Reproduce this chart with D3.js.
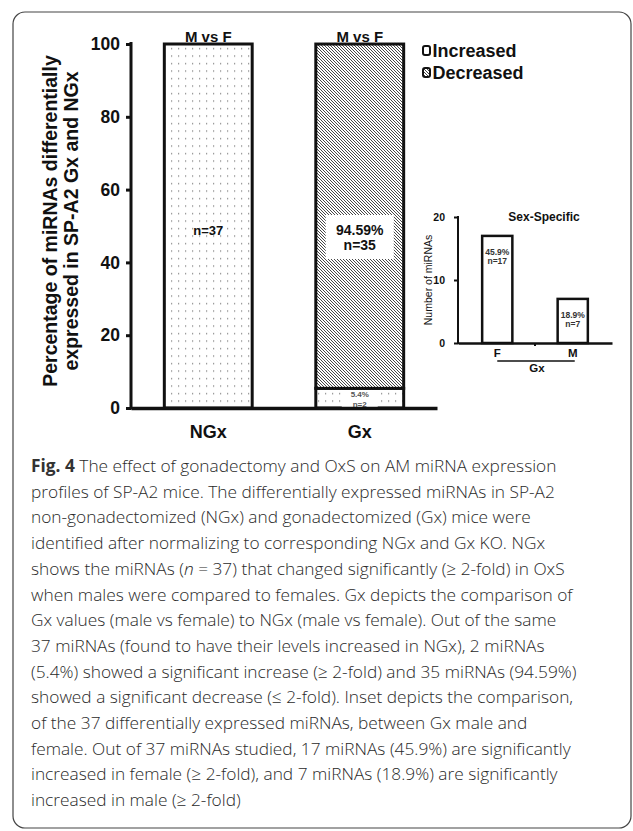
<!doctype html>
<html>
<head>
<meta charset="utf-8">
<script src="https://d3js.org/d3.v7.min.js"></script>
<style>
  body { margin: 0; background: #fff; }
  svg { display: block; }
  .bold { font-family: "Liberation Sans", Arial, sans-serif; font-weight: bold; fill: #111; }
  .cap { font-family: "Open Sans", "Noto Sans", sans-serif; font-weight: 300; fill: #2a2a2a; }
</style>
</head>
<body>
<svg id="chart" width="633" height="831"></svg>
<script>
// main chart data
var groups = ["NGx", "Gx"];
var increasedPct = [100, 5.4];
var decreasedPct = [0, 94.59];
var increasedN = [37, 2];
var decreasedN = [0, 35];
var yTicks = [0, 20, 40, 60, 80, 100];
var legendItems = ["Increased", "Decreased"];

// inset data
var insetCats = ["F", "M"];
var insetCounts = [17, 7];
var insetPct = [45.9, 18.9];
var insetTicks = [0, 10, 20];

var captionLines = [
  "The effect of gonadectomy and OxS on AM miRNA expression",
  "profiles of SP-A2 mice. The differentially expressed miRNAs in SP-A2",
  "non-gonadectomized (NGx) and gonadectomized (Gx) mice were",
  "identified after normalizing to corresponding NGx and Gx KO. NGx",
  "shows the miRNAs (|n| = 37) that changed significantly (\u2265 2-fold) in OxS",
  "when males were compared to females. Gx depicts the comparison of",
  "Gx values (male vs female) to NGx (male vs female). Out of the same",
  "37 miRNAs (found to have their levels increased in NGx), 2 miRNAs",
  "(5.4%) showed a significant increase (\u2265 2-fold) and 35 miRNAs (94.59%)",
  "showed a significant decrease (\u2264 2-fold). Inset depicts the comparison,",
  "of the 37 differentially expressed miRNAs, between Gx male and",
  "female. Out of 37 miRNAs studied, 17 miRNAs (45.9%) are significantly",
  "increased in female (\u2265 2-fold), and 7 miRNAs (18.9%) are significantly",
  "increased in male (\u2265 2-fold)"
];

var svg = d3.select("#chart");

// patterns
var defs = svg.append("defs");
var dots = defs.append("pattern").attr("id", "dots")
  .attr("patternUnits", "userSpaceOnUse").attr("width", 7).attr("height", 7.5);
dots.append("rect").attr("x", 3).attr("y", 3).attr("width", 1.2).attr("height", 1.2).attr("fill", "#777");
var hatch = defs.append("pattern").attr("id", "hatch")
  .attr("patternUnits", "userSpaceOnUse").attr("width", 3).attr("height", 3);
hatch.append("rect").attr("width", 3).attr("height", 3).attr("fill", "#fff");
hatch.append("path").attr("d", "M-1,-1 L4,4 M-1,2 L1,4 M2,-1 L4,1")
  .attr("stroke", "#333").attr("stroke-width", 0.9);

// frame
svg.append("rect").attr("x", 13).attr("y", 12).attr("width", 618).attr("height", 816)
  .attr("rx", 12).attr("fill", "none").attr("stroke", "#444").attr("stroke-width", 1.2);

// scales
var x = d3.scaleBand().domain(groups).range([131, 437]).paddingInner(0.42).paddingOuter(0.22);
var y = d3.scaleLinear().domain([0, 100]).range([408, 44]);

var rows = groups.map(function(g, i) {
  return {g: g, inc: increasedPct[i], dec: decreasedPct[i], nInc: increasedN[i], nDec: decreasedN[i]};
});

// bars: increased segment (dots) from 0, decreased (hatch) stacked on top
var bars = svg.append("g");
bars.selectAll(".inc").data(rows).enter().append("rect")
  .attr("x", function(d) { return x(d.g); })
  .attr("y", function(d) { return y(d.inc); })
  .attr("width", x.bandwidth())
  .attr("height", function(d) { return y(0) - y(d.inc); })
  .attr("fill", "url(#dots)").attr("stroke", "#111").attr("stroke-width", 3);
bars.selectAll(".dec").data(rows.filter(function(d) { return d.dec > 0; })).enter().append("rect")
  .attr("x", function(d) { return x(d.g); })
  .attr("y", function(d) { return y(d.inc + d.dec); })
  .attr("width", x.bandwidth())
  .attr("height", function(d) { return y(d.inc) - y(d.inc + d.dec); })
  .attr("fill", "url(#hatch)").attr("stroke", "#111").attr("stroke-width", 3);

// bar labels
var cNGx = x("NGx") + x.bandwidth() / 2, cGx = x("Gx") + x.bandwidth() / 2;
svg.append("text").attr("class", "bold").attr("x", cNGx).attr("y", 235)
  .attr("text-anchor", "middle").attr("font-size", 13).text("n=" + rows[0].nInc);
svg.append("rect").attr("x", cGx - 34).attr("y", 215).attr("width", 68).attr("height", 44).attr("fill", "#fff");
svg.append("text").attr("class", "bold").attr("x", cGx).attr("y", 235)
  .attr("text-anchor", "middle").attr("font-size", 14).text(rows[1].dec + "%");
svg.append("text").attr("class", "bold").attr("x", cGx).attr("y", 250)
  .attr("text-anchor", "middle").attr("font-size", 14).text("n=" + rows[1].nDec);
svg.append("rect").attr("x", cGx - 18).attr("y", y(rows[1].inc) + 2).attr("width", 36).attr("height", 17).attr("fill", "#fff");
svg.append("text").attr("class", "bold").attr("x", cGx).attr("y", y(rows[1].inc) + 9)
  .attr("text-anchor", "middle").attr("font-size", 8).style("fill", "#555").text(rows[1].inc + "%");
svg.append("text").attr("class", "bold").attr("x", cGx).attr("y", y(rows[1].inc) + 19)
  .attr("text-anchor", "middle").attr("font-size", 8).style("fill", "#555").text("n=" + rows[1].nInc);

// M vs F labels
svg.selectAll(".mvf").data(groups).enter().append("text").attr("class", "bold")
  .attr("x", function(d) { return x(d) + x.bandwidth() / 2; })
  .attr("y", y(100) - 2).attr("text-anchor", "middle").attr("font-size", 15).text("M vs F");

// axes
var yAxis = d3.axisLeft(y).tickValues(yTicks).tickSize(5).tickPadding(6);
var gy = svg.append("g").attr("transform", "translate(131,0)").call(yAxis);
gy.select(".domain").remove();
gy.selectAll(".tick line").attr("stroke", "#111").attr("stroke-width", 3);
gy.selectAll(".tick text").attr("class", "bold").attr("font-size", 17.5);
svg.append("line").attr("x1", 131).attr("x2", 131).attr("y1", y(0) + 1.5).attr("y2", y(100) - 2)
  .attr("stroke", "#111").attr("stroke-width", 3);

var xAxis = d3.axisBottom(x).tickSize(0).tickPadding(17);
var gx = svg.append("g").attr("transform", "translate(0," + y(0) + ")").call(xAxis);
gx.select(".domain").attr("stroke", "#111").attr("stroke-width", 3.5);
gx.selectAll(".tick text").attr("class", "bold").attr("font-size", 18);

// y label
var yl = svg.append("text").attr("class", "bold").attr("font-size", 19.5)
  .attr("text-anchor", "middle").attr("transform", "translate(51,221) rotate(-90)");
yl.append("tspan").attr("x", 0).attr("dy", 6).text("Percentage of miRNAs  differentially");
yl.append("tspan").attr("x", 0).attr("dy", 20.5).text("expressed in SP-A2 Gx and NGx");

// legend
var leg = svg.append("g").selectAll("g").data(legendItems).enter().append("g")
  .attr("transform", function(d, i) { return "translate(423," + (46 + i * 22) + ")"; });
leg.append("rect").attr("width", 7).attr("height", 9).attr("rx", 2)
  .attr("fill", function(d, i) { return i === 0 ? "#fff" : "url(#hatch)"; })
  .attr("stroke", "#111").attr("stroke-width", 2);
leg.append("text").attr("class", "bold").attr("x", 9.5).attr("y", 11).attr("font-size", 18)
  .text(function(d) { return d; });

// inset
var ix = d3.scaleBand().domain(insetCats).range([458, 612]).paddingInner(0.6).paddingOuter(0.32);
var iy = d3.scaleLinear().domain([0, 20]).range([343, 217]);
var inset = svg.append("g");
inset.selectAll("rect").data(insetCats).enter().append("rect")
  .attr("x", function(d) { return ix(d); })
  .attr("y", function(d, i) { return iy(insetCounts[i]); })
  .attr("width", ix.bandwidth())
  .attr("height", function(d, i) { return iy(0) - iy(insetCounts[i]); })
  .attr("fill", "#fff").attr("stroke", "#111").attr("stroke-width", 2.5);
inset.selectAll(".pct").data(insetCats).enter().append("text").attr("class", "bold")
  .attr("x", function(d) { return ix(d) + ix.bandwidth() / 2; })
  .attr("y", function(d, i) { return iy(insetCounts[i]) + 19; })
  .attr("text-anchor", "middle").attr("font-size", 8.5).style("fill", "#333")
  .text(function(d, i) { return insetPct[i] + "%"; });
inset.selectAll(".n").data(insetCats).enter().append("text").attr("class", "bold")
  .attr("x", function(d) { return ix(d) + ix.bandwidth() / 2; })
  .attr("y", function(d, i) { return iy(insetCounts[i]) + 28; })
  .attr("text-anchor", "middle").attr("font-size", 8.5).style("fill", "#333")
  .text(function(d, i) { return "n=" + insetCounts[i]; });

var iyAxis = d3.axisLeft(iy).tickValues(insetTicks).tickSize(4).tickPadding(9);
var giy = inset.append("g").attr("transform", "translate(458,0)").call(iyAxis);
giy.select(".domain").remove();
giy.selectAll(".tick line").attr("stroke", "#111").attr("stroke-width", 2);
giy.selectAll(".tick text").attr("class", "bold").attr("font-size", 10.5);
inset.append("line").attr("x1", 458).attr("x2", 458).attr("y1", iy(0) + 1).attr("y2", iy(20) - 1)
  .attr("stroke", "#111").attr("stroke-width", 2);
var ixAxis = d3.axisBottom(ix).tickSize(0).tickPadding(6);
var gix = inset.append("g").attr("transform", "translate(0," + iy(0) + ")").call(ixAxis);
gix.select(".domain").attr("stroke", "#111").attr("stroke-width", 2.5);
gix.selectAll(".tick text").attr("class", "bold").attr("font-size", 11.5);
inset.append("line").attr("x1", 535).attr("x2", 535).attr("y1", iy(0)).attr("y2", iy(0) + 3)
  .attr("stroke", "#111").attr("stroke-width", 2);
inset.append("line").attr("x1", ix("F") + ix.bandwidth() / 2).attr("x2", ix("M") + ix.bandwidth() / 2 + 2)
  .attr("y1", 361).attr("y2", 361).attr("stroke", "#111").attr("stroke-width", 1.5);
inset.append("text").attr("class", "bold").attr("x", 537).attr("y", 372)
  .attr("text-anchor", "middle").attr("font-size", 11.5).text("Gx");
inset.append("text").attr("class", "bold").attr("x", 544).attr("y", 221)
  .attr("text-anchor", "middle").attr("font-size", 12).text("Sex-Specific");
inset.append("text").attr("x", 0).attr("y", 0)
  .attr("transform", "translate(432,280) rotate(-90)").attr("text-anchor", "middle")
  .attr("font-family", "Liberation Sans, Arial, sans-serif").attr("font-size", 10.5).attr("fill", "#111")
  .text("Number of miRNAs");

// caption
var cap = svg.append("g");
captionLines.forEach(function(line, i) {
  var t = cap.append("text").attr("class", "cap").attr("x", 31).attr("y", 472 + i * 25.7)
    .attr("font-size", 17.3);
  if (i === 0) {
    t.append("tspan").attr("font-weight", "bold").style("fill", "#333").text("Fig. 4 ");
  }
  var parts = line.split("|");
  parts.forEach(function(p, j) {
    var s = t.append("tspan").text(p);
    if (j % 2 === 1) s.attr("font-style", "italic");
  });
});
</script>
</body>
</html>
